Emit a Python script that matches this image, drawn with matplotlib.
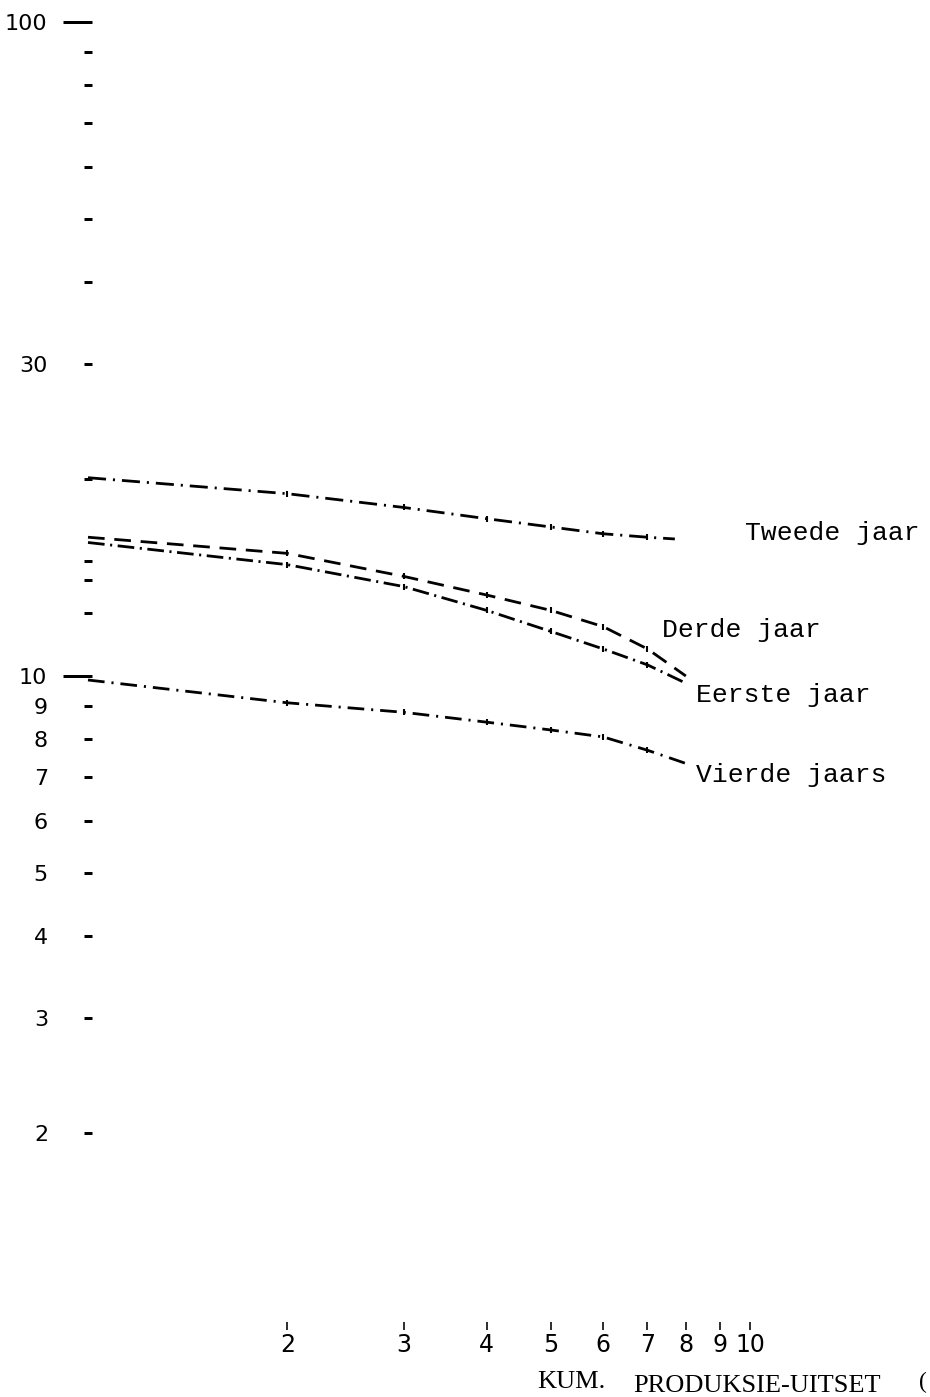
import matplotlib
matplotlib.use("Agg")
import matplotlib.pyplot as plt
from matplotlib.ticker import FixedLocator, FixedFormatter, NullLocator

plt.rcParams['lines.scale_dashes'] = False

# Cumulative production output and unit cost for each year group
output = [1, 2, 3, 4, 5, 6, 7, 8]
tweede_x = [1, 2, 3, 4, 5, 6, 7, 7.7]
tweede = [20.1, 19.0, 18.1, 17.4, 16.9, 16.5, 16.3, 16.2]
derde = [16.3, 15.4, 14.2, 13.3, 12.6, 11.9, 11.0, 10.0]
eerste = [16.0, 14.8, 13.7, 12.6, 11.7, 11.0, 10.4, 9.75]
vierde = [9.86, 9.1, 8.8, 8.5, 8.27, 8.07, 7.7, 7.35]

series_names = ["Tweede jaar", "Derde jaar", "Eerste jaar", "Vierde jaars"]

y_major = [10, 100]
y_major_labels = ["10", "100"]
y_minor = [2, 3, 4, 5, 6, 7, 8, 9, 12.5, 14, 15, 20, 30, 40, 50, 60, 70, 80, 90]
y_minor_labels = ["2", "3", "4", "5", "6", "7", "8", "9", "", "", "", "", "30",
                  "", "", "", "", "", ""]
x_ticks = [2, 3, 4, 5, 6, 7, 8, 9, 10]
x_tick_labels = ["2", "3", "4", "5", "6", "7", "8", "9", "10"]

x_label = "KUM."
x_label_rest = "PRODUKSIE-UITSET"

W, H = 930, 1397
DPI = 100
PX = 72 / DPI  # points per pixel

fig = plt.figure(figsize=(W / DPI, H / DPI), dpi=DPI, facecolor="white")
ax = fig.add_axes([0, 0, 1, 1])
ax.set_xscale("log")
ax.set_yscale("log")

# log-log paper: x=1 sits 88 px from the left, y=10 sits 676 px from the top
x_px_dec, y_px_dec = 662, 654
ax.set_xlim(10 ** (-88 / x_px_dec), 10 ** ((W - 88) / x_px_dec))
ax.set_ylim(10 ** (1 - (H - 676) / y_px_dec), 10 ** (1 + 676 / y_px_dec))
ax.set_facecolor("white")

for s in ax.spines.values():
    s.set_visible(False)
ax.spines["left"].set_position(("axes", 92 / W))
ax.spines["bottom"].set_position(("data", 1))

# y axis ticks
ax.yaxis.set_major_locator(FixedLocator(y_major))
ax.yaxis.set_major_formatter(FixedFormatter(y_major_labels))
ax.yaxis.set_minor_locator(FixedLocator(y_minor))
ax.yaxis.set_minor_formatter(FixedFormatter(y_minor_labels))
ax.tick_params(axis="y", which="major", direction="out", length=29 * PX,
               width=3 * PX, pad=16 * PX, labelsize=16, colors="black")
ax.tick_params(axis="y", which="minor", direction="out", length=8 * PX,
               width=3 * PX, pad=36 * PX, labelsize=16, colors="black")

# x axis ticks
ax.xaxis.set_major_locator(FixedLocator(x_ticks))
ax.xaxis.set_major_formatter(FixedFormatter(x_tick_labels))
ax.xaxis.set_minor_locator(NullLocator())
ax.tick_params(axis="x", which="major", direction="in", length=8 * PX,
               width=1.6 * PX, pad=3 * PX, labelsize=17, colors="black")

lw = 2.0
mk = dict(marker="|", ms=5, mew=1.5, markevery=slice(1, -1), color="black")
ax.plot(tweede_x, tweede, lw=lw, dashes=[13, 5, 1.5, 5], **mk)
ax.plot(output, derde, lw=lw, dashes=[12, 7], **mk)
ax.plot(output, eerste, lw=lw, dashes=[12, 4, 1.5, 4], **mk)
ax.plot(output, vierde, lw=lw, dashes=[12, 5, 1.5, 5], **mk)


def fx(px):
    return px / W


def fy(py):
    return 1 - py / H


mono = "Liberation Mono"
label_pos = [(745, 533), (662, 630), (696, 695), (696, 775)]
for name, (px, py) in zip(series_names, label_pos):
    fig.text(fx(px), fy(py), name, family=mono, fontsize=19,
             ha="left", va="center", color="black")

# axis title along the bottom edge
fig.text(fx(537), fy(1388), x_label, family="Liberation Serif", fontsize=19,
         ha="left", va="baseline", color="black")
fig.text(fx(633), fy(1392), x_label_rest, family="Liberation Serif",
         fontsize=19, ha="left", va="baseline", color="black")
fig.text(fx(919), fy(1388), "(", family="Liberation Serif", fontsize=17,
         ha="left", va="baseline", color="black")

fig.savefig("out.png", dpi=DPI, facecolor="white")
